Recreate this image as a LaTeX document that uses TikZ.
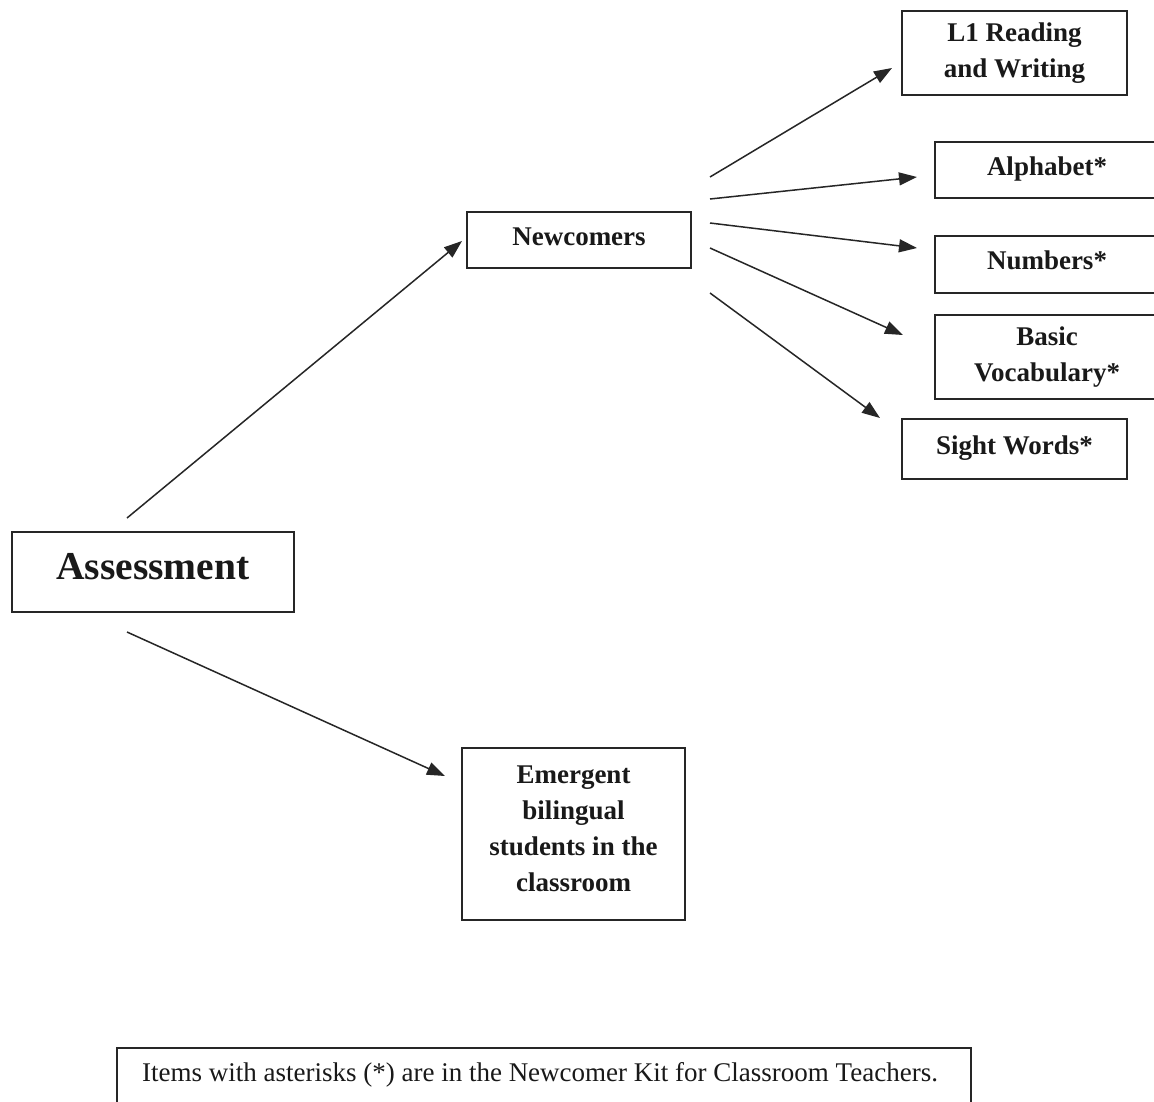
\documentclass[tikz,border=0pt]{standalone}
\usepackage{fontspec}
\setmainfont{Liberation Serif}
\usetikzlibrary{arrows.meta}
\begin{document}
\begin{tikzpicture}[x=1pt,y=-1pt,
  box/.style={draw=black!85, line width=1.6pt, inner sep=0pt, align=center,
              font=\fontsize{27}{36}\selectfont\bfseries, text=black!90},
  oneline/.style={text height=19pt, text depth=9pt},
  frame/.style={draw=black!85, line width=1.6pt, inner sep=0pt},
  txt/.style={inner sep=0pt, align=center,
              font=\fontsize{27}{36}\selectfont\bfseries, text=black!90},
  arr/.style={line width=1.5pt, draw=black!85,
              -{Triangle[length=18pt,width=13pt]}},
]
\useasboundingbox (0,0) rectangle (1154,1101);
\fill[white] (0,0) rectangle (1154,1101);
\begin{scope}
\clip (0,0) rectangle (1154,1101);

% main boxes
\node[box, minimum width=282pt, minimum height=80pt, text height=28pt, text depth=13pt,
      font=\fontsize{39.5}{46}\selectfont\bfseries] (assess) at (153,572) {Assessment};
\node[box, oneline, minimum width=224pt, minimum height=56pt] (newc) at (579,240) {Newcomers};
\node[frame, minimum width=223pt, minimum height=172pt] (emerg) at (573.5,834) {};
\node[txt] (emergtext) at ([yshift=5pt]emerg.center)
      {Emergent\\bilingual\\students in the\\classroom};

% newcomer branches
\node[box, minimum width=225pt, minimum height=84pt] (l1) at (1014.5,53) {L1 Reading\\and Writing};
\node[box, oneline, minimum width=224pt, minimum height=56pt] (alpha) at (1047,170) {Alphabet*};
\node[box, oneline, minimum width=224pt, minimum height=57pt] (numb) at (1047,264.5) {Numbers*};
\node[box, minimum width=224pt, minimum height=84pt] (basic) at (1047,357) {Basic\\Vocabulary*};
\node[box, oneline, minimum width=225pt, minimum height=60pt] (sight) at (1014.5,449) {Sight Words*};

% footnote box
\node[frame, minimum width=854pt, minimum height=66pt] (note) at (544,1081) {};
\node[txt, font=\fontsize{27}{32}\selectfont] (notetext) at ([xshift=-4pt,yshift=6pt]note.center)
      {Items with asterisks (*) are in the Newcomer Kit for Classroom Teachers.};
\end{scope}

% connector end points
\coordinate (a1s) at (127,518);  \coordinate (a1e) at (462,241);
\coordinate (a2s) at (127,632);  \coordinate (a2e) at (445,776);
\coordinate (b1s) at (710,177);  \coordinate (b1e) at (892,68);
\coordinate (b2s) at (710,199);  \coordinate (b2e) at (917,177);
\coordinate (b3s) at (710,223);  \coordinate (b3e) at (917,248);
\coordinate (b4s) at (710,248);  \coordinate (b4e) at (903,335);
\coordinate (b5s) at (710,293);  \coordinate (b5e) at (880,418);

\draw[arr] (a1s) -- (a1e);
\draw[arr] (a2s) -- (a2e);
\draw[arr] (b1s) -- (b1e);
\draw[arr] (b2s) -- (b2e);
\draw[arr] (b3s) -- (b3e);
\draw[arr] (b4s) -- (b4e);
\draw[arr] (b5s) -- (b5e);
\end{tikzpicture}
\end{document}
